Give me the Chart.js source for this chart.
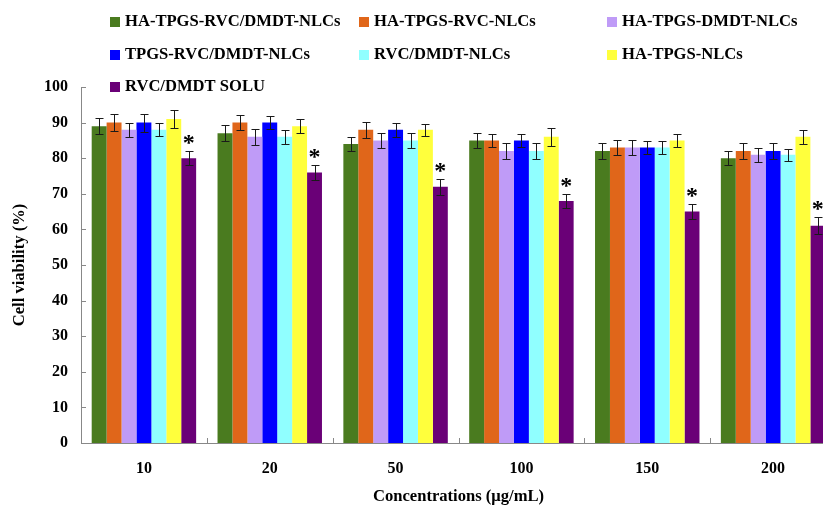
<!DOCTYPE html>
<html>
<head>
<meta charset="utf-8">
<script src="https://cdn.jsdelivr.net/npm/chart.js@4/dist/chart.umd.min.js"></script>
<style>
  html, body { margin: 0; padding: 0; background: #fff; overflow: hidden; }
  #wrap { width: 850px; height: 506px; }
</style>
</head>
<body>
<div id="wrap"><canvas id="c" width="850" height="506"></canvas></div>
<script>
const categories = ['10', '20', '50', '100', '150', '200'];
const seriesNames = ['HA-TPGS-RVC/DMDT-NLCs', 'HA-TPGS-RVC-NLCs', 'HA-TPGS-DMDT-NLCs',
                     'TPGS-RVC/DMDT-NLCs', 'RVC/DMDT-NLCs', 'HA-TPGS-NLCs', 'RVC/DMDT SOLU'];
const haTpgsRvcDmdt = [89, 87, 84, 85, 82, 80];
const haTpgsRvc     = [90, 90, 88, 85, 83, 82];
const haTpgsDmdt    = [88, 86, 85, 82, 83, 81];
const tpgsRvcDmdt   = [90, 90, 88, 85, 83, 82];
const rvcDmdtNlc    = [88, 86, 85, 82, 83, 81];
const haTpgs        = [91, 89, 88, 86, 85, 86];
const rvcDmdtSolu   = [80, 76, 72, 68, 65, 61];
const errHaTpgsRvcDmdt = [2.2, 2.2, 2.0, 2.2, 2.2, 1.9];
const errHaTpgsRvc     = [2.3, 2.0, 2.2, 1.8, 2.0, 2.2];
const errHaTpgsDmdt    = [2.0, 2.3, 2.2, 2.2, 2.0, 2.0];
const errTpgsRvcDmdt   = [2.5, 1.8, 2.0, 1.8, 1.8, 2.2];
const errRvcDmdtNlc    = [1.9, 2.0, 2.2, 2.2, 1.8, 1.7];
const errHaTpgs        = [2.4, 2.0, 1.7, 2.5, 1.8, 2.0];
const errRvcDmdtSolu   = [2.0, 2.2, 2.2, 1.9, 2.2, 2.4];
const significant = [true, true, true, true, true, true]; // asterisks on RVC/DMDT SOLU
const yTicks = [0, 10, 20, 30, 40, 50, 60, 70, 80, 90, 100];

const colors = ['#4a7b1f', '#e0661a', '#bf9bf7', '#0000ff', '#90ffff', '#ffff3c', '#6a0077'];
const values = [haTpgsRvcDmdt, haTpgsRvc, haTpgsDmdt, tpgsRvcDmdt, rvcDmdtNlc, haTpgs, rvcDmdtSolu];
const errors = [errHaTpgsRvcDmdt, errHaTpgsRvc, errHaTpgsDmdt, errTpgsRvcDmdt, errRvcDmdtNlc, errHaTpgs, errRvcDmdtSolu];

const FONT = '"Liberation Serif", "Times New Roman", serif';

const extras = {
  id: 'extras',
  afterDatasetsDraw(chart) {
    const ctx = chart.ctx;
    const y = chart.scales.y, x = chart.scales.x;
    ctx.save();
    // error bars
    ctx.strokeStyle = '#1a1a1a';
    ctx.lineWidth = 1;
    chart.data.datasets.forEach((ds, di) => {
      const meta = chart.getDatasetMeta(di);
      meta.data.forEach((bar, i) => {
        const v = ds.data[i], e = errors[di][i];
        const cx = Math.round(bar.x) + 0.5;
        const yt = Math.round(y.getPixelForValue(v + e)) + 0.5;
        const yb = Math.round(y.getPixelForValue(v - e)) + 0.5;
        ctx.beginPath();
        ctx.moveTo(cx, yt); ctx.lineTo(cx, yb);
        ctx.moveTo(cx - 4, yt); ctx.lineTo(cx + 4, yt);
        ctx.moveTo(cx - 4, yb); ctx.lineTo(cx + 4, yb);
        ctx.stroke();
      });
    });
    // asterisks
    const last = chart.data.datasets.length - 1;
    const metaL = chart.getDatasetMeta(last);
    ctx.fillStyle = '#000';
    ctx.font = 'bold 24px ' + FONT;
    ctx.textAlign = 'center';
    ctx.textBaseline = 'alphabetic';
    metaL.data.forEach((bar, i) => {
      if (!significant[i]) return;
      const v = chart.data.datasets[last].data[i] + errors[last][i];
      ctx.fillText('*', bar.x, y.getPixelForValue(v) - 1);
    });
    // inward ticks
    ctx.strokeStyle = '#888';
    ctx.lineWidth = 1;
    ctx.beginPath();
    const left = chart.chartArea.left;
    yTicks.forEach(t => {
      const py = Math.round(y.getPixelForValue(t)) + 0.5;
      ctx.moveTo(left, py); ctx.lineTo(left + 5, py);
    });
    const bottom = chart.chartArea.bottom;
    for (let i = 0; i < categories.length - 1; i++) {
      const px = Math.round((x.getPixelForTick(i) + x.getPixelForTick(i + 1)) / 2) + 0.5;
      ctx.moveTo(px, bottom); ctx.lineTo(px, bottom - 5);
    }
    ctx.stroke();
    // legend
    const cols = [110, 359, 607];
    const rows = [22, 55, 87];
    ctx.font = 'bold 16.6px ' + FONT;
    ctx.textAlign = 'left';
    ctx.textBaseline = 'middle';
    seriesNames.forEach((name, k) => {
      const cx = cols[k % 3], cy = rows[Math.floor(k / 3)];
      ctx.fillStyle = colors[k];
      ctx.fillRect(cx, cy - 5, 10, 10);
      ctx.fillStyle = '#000';
      ctx.fillText(name, cx + 15, cy);
    });
    ctx.restore();
  }
};

new Chart(document.getElementById('c'), {
  type: 'bar',
  data: {
    labels: categories,
    datasets: seriesNames.map((n, k) => ({
      label: n,
      data: values[k],
      backgroundColor: colors[k],
      borderWidth: 0,
      categoryPercentage: 0.83,
      barPercentage: 1.0
    }))
  },
  options: {
    responsive: false,
    animation: false,
    layout: { padding: { top: 87, right: 14, left: 0, bottom: 0 } },
    plugins: { legend: { display: false }, tooltip: { enabled: false } },
    scales: {
      x: {
        grid: { display: false, drawTicks: false },
        border: { display: true, color: '#888', width: 1 },
        ticks: { color: '#000', font: { family: FONT, size: 16, weight: 'bold' }, padding: 16 },
        title: { display: true, text: 'Concentrations (μg/mL)', color: '#000',
                 font: { family: FONT, size: 16.6, weight: 'bold' }, padding: { top: 0, bottom: -1 } },
        afterFit(s) { s.height = 63; }
      },
      y: {
        min: 0, max: 100,
        grid: { display: false, drawTicks: false },
        border: { display: true, color: '#888', width: 1 },
        ticks: { stepSize: 10, color: '#000', font: { family: FONT, size: 16, weight: 'bold' }, padding: 13 },
        title: { display: true, text: 'Cell viability (%)', color: '#000',
                 font: { family: FONT, size: 16.6, weight: 'bold' }, padding: { top: 10, bottom: 0 } },
        afterFit(s) { s.width = 81; }
      }
    }
  },
  plugins: [extras]
});
</script>
</body>
</html>
